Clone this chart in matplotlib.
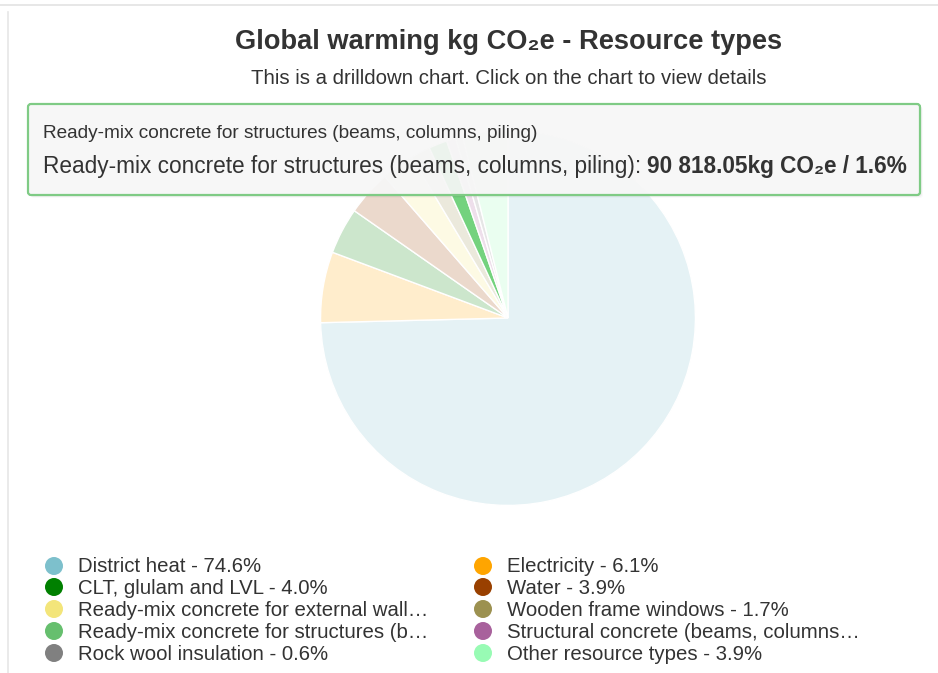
import matplotlib
matplotlib.use("Agg")
import matplotlib.pyplot as plt
from matplotlib.patches import Circle, FancyBboxPatch
from matplotlib.lines import Line2D
from matplotlib.transforms import IdentityTransform
from matplotlib.colors import to_rgb

W, H = 938, 673
FONT = ["Liberation Sans", "DejaVu Sans"]

# pie data (share of total, %), clockwise from 12 o'clock
resources = ["District heat", "Electricity", "CLT, glulam and LVL", "Water",
             "Ready-mix concrete for external walls", "Wooden frame windows",
             "Ready-mix concrete for structures (beams, columns, piling)",
             "Structural concrete (beams, columns, piling)",
             "Rock wool insulation", "Other resource types"]
shares = [74.6, 6.1, 4.0, 3.9, 2.8, 1.7, 1.6, 0.8, 0.6, 3.9]
colors = ["#7dc0cc", "#ffa500", "#008000", "#994000", "#f3e57a",
          "#9c9150", "#66bf6e", "#a8619c", "#808080", "#98fbb4"]
legend_labels = ["District heat - 74.6%", "Electricity - 6.1%",
                 "CLT, glulam and LVL - 4.0%", "Water - 3.9%",
                 "Ready-mix concrete for external wall\u2026",
                 "Wooden frame windows - 1.7%",
                 "Ready-mix concrete for structures (b\u2026",
                 "Structural concrete (beams, columns\u2026",
                 "Rock wool insulation - 0.6%", "Other resource types - 3.9%"]
hovered = 6
tip_header = "Ready-mix concrete for structures (beams, columns, piling)"
tip_value = "90 818.05kg CO\u2082e / 1.6%"


def fade(c, a=0.2):
    r, g, b = to_rgb(c)
    return (1 - a + a * r, 1 - a + a * g, 1 - a + a * b)


def fx(x):
    return x / W


def fy(y):
    return 1 - y / H


def pt(px):
    return px * 0.72


fig = plt.figure(figsize=(W / 100, H / 100), dpi=100)
fig.patch.set_facecolor("white")

# card borders
fig.add_artist(Line2D([0, 1], [fy(5), fy(5)], color="#e3e3e3", lw=1.2))
fig.add_artist(Line2D([fx(8), fx(8)], [fy(12), 0], color="#e6e6e6", lw=1.2))

fig.text(fx(509), fy(42), "Global warming kg CO\u2082e - Resource types",
         ha="center", va="center", fontsize=pt(27.2), fontweight="bold",
         color="#333333", family=FONT)
fig.text(fx(509), fy(78), "This is a drilldown chart. Click on the chart to view details",
         ha="center", va="center", fontsize=pt(20.4), color="#333333", family=FONT)

# pie
cx, cy, r = 508, 318, 188
ax = fig.add_axes([fx(cx - r), fy(cy + r), 2 * r / W, 2 * r / H])
face = [fade(c) for c in colors]
face[hovered] = "#74d27e"
ax.pie(shares, colors=face, startangle=90, counterclock=False, radius=1,
       wedgeprops=dict(edgecolor="white", linewidth=1))
ax.set_xlim(-1.003, 1.003)
ax.set_ylim(-1.003, 1.003)
ax.axis("off")

# tooltip
x0, y0, x1, y1 = 28, 104, 920, 195
idt = IdentityTransform()
for k, a in [(3, 0.02), (2, 0.04), (1, 0.06)]:
    fig.add_artist(FancyBboxPatch((x0 + k, H - y1 - k), x1 - x0, y1 - y0,
                                  boxstyle="round,pad=0,rounding_size=3",
                                  transform=idt, facecolor="black", alpha=a,
                                  edgecolor="none", zorder=5))
fig.add_artist(FancyBboxPatch((x0, H - y1), x1 - x0, y1 - y0,
                              boxstyle="round,pad=0,rounding_size=3",
                              transform=idt, facecolor=(0.975, 0.975, 0.975, 0.92),
                              edgecolor="#7fcb85", lw=1.6, zorder=6))
fig.text(fx(43), fy(134), tip_header, ha="left", va="center",
         fontsize=pt(19), color="#333333", family=FONT, zorder=7)
t = fig.text(fx(43), fy(166), tip_header + ": ", ha="left", va="center",
             fontsize=pt(22.6), color="#333333", family=FONT, zorder=7)
rend = fig.canvas.get_renderer()
bb = t.get_window_extent(renderer=rend)
fig.text(bb.x1 / W, fy(166), tip_value, ha="left", va="center",
         fontsize=pt(22.6), fontweight="bold", color="#333333", family=FONT, zorder=7)

# legend, two columns filled row by row
rows = [566, 587, 609, 631, 653]
for i, lab in enumerate(legend_labels):
    col, row = i % 2, i // 2
    mx = [54, 483][col]
    y = rows[row]
    fig.add_artist(Circle((mx, H - y), 9, transform=idt, facecolor=colors[i],
                          edgecolor="none"))
    fig.text(fx(mx + 24), fy(y + 1), lab, ha="left", va="center",
             fontsize=pt(20.4), color="#333333", family=FONT)

fig.savefig("out.png", dpi=100)
